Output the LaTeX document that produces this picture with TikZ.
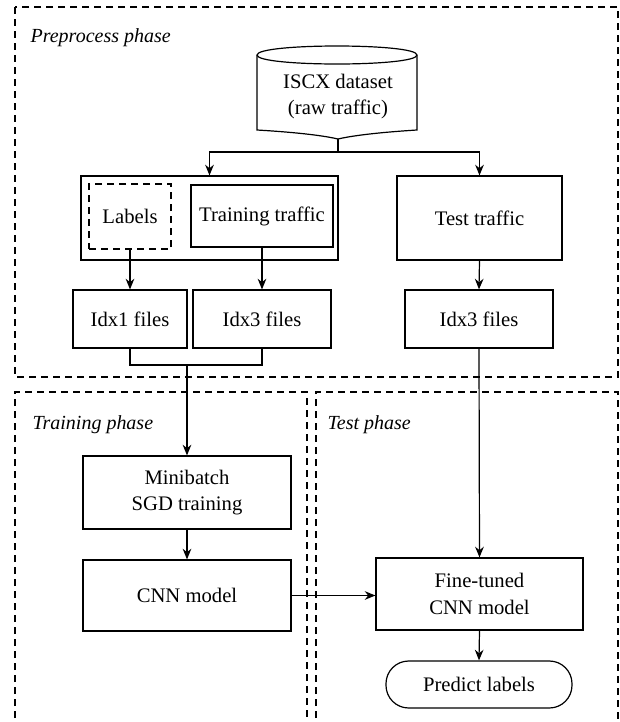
\documentclass[tikz,border=0pt]{standalone}
\usepackage{fontspec}
\setmainfont{Liberation Serif}
\usetikzlibrary{arrows.meta}

\tikzset{every picture/.style={line width=0.9pt}}
\tikzset{
  box/.style={draw, rectangle, inner sep=0pt, align=center, font=\fontsize{15.5}{20}\selectfont},
  dashbox/.style={box, dash pattern=on 5.5pt off 3.5pt},
  endbox/.style={box, rounded corners=17pt},
  phase/.style={anchor=west, inner sep=0pt, font=\fontsize{15}{18}\selectfont\itshape},
  region/.style={dash pattern=on 5.5pt off 3.5pt, line width=0.8pt},
  flow/.style={-{Stealth[length=8pt,width=6.5pt]}}
}

\begin{document}
\begin{tikzpicture}[x=0.75pt,y=0.75pt,yscale=-1,xscale=1]
\useasboundingbox (0,0) rectangle (620,722);

%Dashed regions
\draw [region] (15,7) rectangle (618,377) ;
\draw [region] (15,730) -- (15,392) -- (307,392) -- (307,730) ;
\draw [region] (316,730) -- (316,392) -- (618,392) -- (618,730) ;

% Text Node
\node [phase] (prep) at (30,38) {Preprocess phase};
% Text Node
\node [phase] (train) at (32,425) {Training phase};
% Text Node
\node [phase] (testph) at (327,425) {Test phase};

%Shape: Can [id:dataset]
\draw (257,55) .. controls (257,43) and (417,43) .. (417,55) -- (417,130) .. controls (385,132) and (355,135) .. (338,139) .. controls (321,135) and (291,132) .. (257,130) -- cycle ;
\draw (257,55) .. controls (257,67) and (417,67) .. (417,55) ;
\node [box, draw=none] (data) at (338,96.5) {ISCX dataset\\(raw traffic)};
\coordinate (datab) at (338,139);
\coordinate (split) at (338,152);

% Boxes
\node [box, minimum width=192.75pt, minimum height=63pt] (group) at (209.5,218) {};
\node [dashbox, minimum width=61.5pt, minimum height=48.75pt] (labels) at (130,216.5) {Labels};
\node [box, minimum width=106.5pt, minimum height=46.5pt] (trtraffic) at (262,216) {Training traffic};
\node [box, minimum width=123.75pt, minimum height=63pt] (tetraffic) at (479.5,218) {Test traffic};
\node [box, minimum width=85.5pt, minimum height=43.5pt] (idxa) at (130,319) {Idx1 files};
\node [box, minimum width=103.5pt, minimum height=43.5pt] (idxb) at (262,319) {Idx3 files};
\node [box, minimum width=111pt, minimum height=43.5pt] (idxc) at (479,319) {Idx3 files};
\node [box, minimum width=156pt, minimum height=54.75pt] (sgd) at (187,492.5) {Minibatch\\SGD training};
\node [box, minimum width=156pt, minimum height=53.25pt] (cnn) at (187,595.5) {CNN model};
\node [box, minimum width=155.25pt, minimum height=54pt] (fine) at (479.5,594) {Fine-tuned\\CNN model};
\node [endbox, minimum width=139.5pt, minimum height=35.25pt] (predict) at (479,684.5) {Predict labels};
\coordinate (joinl) at (130,365);
\coordinate (joinr) at (262,365);
\coordinate (join) at (187,365);

% Connectors
\draw (datab) -- (split) ;
\draw [flow] (split) -| (group.north) ;
\draw [flow] (split) -| (tetraffic.north) ;
\draw [flow] (labels.south) -- (idxa.north) ;
\draw [flow] (trtraffic.south) -- (idxb.north) ;
\draw [flow] (tetraffic.south) -- (idxc.north) ;
\draw (idxa.south) -- (joinl) -- (joinr) -- (idxb.south) ;
\draw [flow] (join) -- (sgd.north) ;
\draw [flow] (sgd.south) -- (cnn.north) ;
\draw [flow] (idxc.south) -- (fine.north) ;
\draw [flow] (cnn.east) -- (cnn.east -| fine.west) ;
\draw [flow] (fine.south) -- (predict.north) ;

\end{tikzpicture}
\end{document}
